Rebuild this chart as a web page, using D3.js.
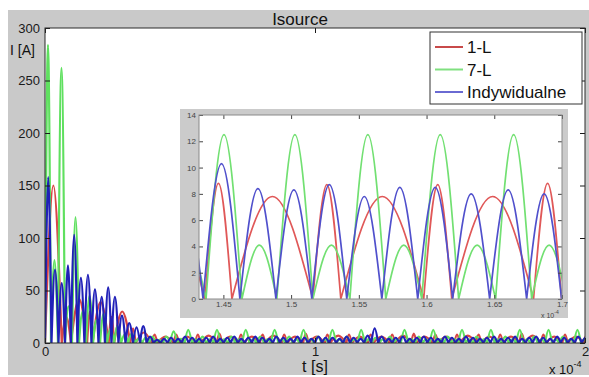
<!DOCTYPE html>
<html>
<head>
<meta charset="utf-8">
<script src="https://cdn.jsdelivr.net/npm/d3@7"></script>
<style>
  html, body { margin: 0; padding: 0; background: #fff; }
  svg { display: block; font-family: "Liberation Sans", Arial, sans-serif; }
</style>
</head>
<body>
<div id="chart"></div>
<script>
// Time in units of 1e-4 s. Each series: zero crossings of |i(t)| and the peak of each arch between them.
const seriesNames = ['1-L', '7-L', 'Indywidualne'];

// main plot, 1-L
const redZeros = [0, 0.062, 0.096, 0.156, 0.176, 0.236, 0.256, 0.316, 0.336, 0.396, 0.416,
  0.476, 0.496, 0.556, 0.576, 0.636, 0.656, 0.716, 0.736, 0.796, 0.816, 0.876, 0.896, 0.956, 0.976,
  1.036, 1.056, 1.116, 1.136, 1.196, 1.216, 1.276, 1.296, 1.356, 1.376, 1.436, 1.456, 1.516, 1.536,
  1.596, 1.616, 1.676, 1.696, 1.756, 1.776, 1.836, 1.856, 1.916, 1.936, 1.996, 2.016];
const redPeaks = [150, 25, 42, 30, 39, 25, 30, 14, 10, 8, 6,
  8, 6, 8, 7, 9, 6, 8, 6, 8, 7,
  8, 6, 9, 6, 8, 7, 8, 6, 8, 6,
  8, 7, 9, 6, 8, 6, 8, 7, 8, 6,
  8, 6, 9, 7, 8, 6, 8, 6, 8];

// main plot, 7-L
const greenZeros = [0, 0.022, 0.048, 0.074, 0.100, 0.126, 0.152, 0.178, 0.204, 0.230, 0.256, 0.282,
  0.308, 0.334, 0.360, 0.385,
  0.410, 0.437, 0.463, 0.490, 0.517, 0.544, 0.570, 0.597, 0.624, 0.650, 0.677, 0.704, 0.730, 0.757,
  0.784, 0.811, 0.837, 0.864, 0.891, 0.917, 0.944, 0.971, 0.997, 1.024, 1.051, 1.078, 1.104, 1.131,
  1.158, 1.184, 1.211, 1.238, 1.264, 1.291, 1.318, 1.345, 1.371, 1.398, 1.425, 1.451, 1.478, 1.505,
  1.531, 1.558, 1.585, 1.612, 1.638, 1.665, 1.692, 1.718, 1.745, 1.772, 1.798, 1.825, 1.852, 1.878,
  1.905, 1.932, 1.959, 1.985, 2.012];
const greenPeaks = [284, 79, 262, 35, 120, 30, 45, 22, 28, 14, 16, 8, 9, 4, 5, 6,
  3, 6, 11, 4,
  12.5, 3.5, 6, 3.5,
  12.5, 3.5, 6, 3.5,
  12.5, 3.5, 6, 3.5,
  12.5, 3.5, 6, 3.5,
  12.5, 3.5, 6, 3.5,
  12.5, 3.5, 6, 3.5,
  12.5, 3.5, 5, 3.5, 6, 3.5,
  12.5, 3.5, 6, 3.5,
  12.5, 3.5, 6, 3.5,
  12.5, 3.5, 6, 3.5,
  12.5, 3.5, 6, 3.5,
  12.5, 3.5, 6, 3.5,
  12.5, 3.5, 6, 3.5,
  12.5, 3.5];

// main plot, Indywidualne
const blueZeros = [0, 0.024, 0.050, 0.074, 0.096, 0.120, 0.146, 0.172, 0.198, 0.222, 0.246, 0.272,
  0.298, 0.326, 0.352, 0.376, 0.402,
  0.428, 0.454, 0.480, 0.506, 0.532, 0.558, 0.584, 0.610, 0.636, 0.662, 0.688, 0.714, 0.740, 0.766,
  0.792, 0.818, 0.844, 0.870, 0.896, 0.922, 0.948, 0.974, 1.000, 1.026, 1.052, 1.078, 1.104, 1.130,
  1.156, 1.182, 1.208, 1.234, 1.260, 1.286, 1.312, 1.338, 1.364, 1.390, 1.416, 1.442, 1.468, 1.494,
  1.520, 1.546, 1.572, 1.598, 1.624, 1.650, 1.676, 1.702, 1.728, 1.754, 1.780, 1.806, 1.832, 1.858,
  1.884, 1.910, 1.936, 1.962, 1.988, 2.014];
const bluePeaks = [158, 70, 57, 74, 103, 62, 65, 51, 44, 53, 44, 26, 19, 15, 16, 6, 3,
  4, 5, 4, 6, 5, 4, 5, 6, 4, 5,
  6, 4, 5, 6, 5, 4, 6, 5, 4, 6,
  5, 4, 6, 5, 5, 4, 6, 5, 4, 7,
  14, 6, 4, 5, 6, 4, 5, 6, 5, 4,
  6, 5, 4, 6, 5, 4, 5, 6, 4, 5,
  6, 4, 5, 6, 5, 4, 6, 5, 4, 6,
  5];

// zoomed inset (1.432 .. 1.7)
const insetRedZeros = [1.3764, 1.4364, 1.4563, 1.5161, 1.5367, 1.5979, 1.6186, 1.6790, 1.6997, 1.7597];
const insetRedPeaks = [7.8, 8.8, 7.8, 8.7, 7.8, 8.7, 7.8, 8.8, 7.8];
const insetGreenZeros = [1.4106, 1.4372, 1.4637, 1.4895, 1.5161, 1.5434, 1.5699, 1.5965, 1.6237, 1.6510, 1.6776, 1.7034];
const insetGreenPeaks = [4.1, 12.5, 4.1, 12.5, 4.1, 12.5, 4.1, 12.5, 4.1, 12.5, 4.1];
const insetBlueZeros = [1.4084, 1.4350, 1.4622, 1.4888, 1.5153, 1.5411, 1.5670, 1.5935, 1.6193, 1.6466, 1.6739, 1.6997, 1.7260];
const insetBluePeaks = [8.0, 10.3, 8.4, 8.3, 8.7, 7.8, 8.5, 8.5, 8.0, 8.3, 8.0, 8.2];

const mainXTicks = [0, 1, 2];
const mainYTicks = [0, 50, 100, 150, 200, 250, 300];
const insetXTicks = [1.45, 1.5, 1.55, 1.6, 1.65, 1.7];
const insetYTicks = [0, 2, 4, 6, 8, 10, 12, 14];

const mainColors = ['#d84646', '#5fe05f', '#2020b8'];
const insetColors = ['#e05858', '#72e072', '#5050cc'];
const legendColors = ['#c84a4a', '#80e080', '#6a6ad2'];

const W = 589, H = 377;
const svg = d3.select('#chart').append('svg').attr('width', W).attr('height', H);

// figure background
svg.append('rect').attr('x', 8).attr('y', 10).attr('width', W - 8).attr('height', 365).attr('fill', '#c9c9c9');

const x = d3.scaleLinear().domain([0, 2]).range([45, 585]);
const y = d3.scaleLinear().domain([0, 300]).range([343, 28]);

const defs = svg.append('defs');
defs.append('clipPath').attr('id', 'clipMain').append('rect')
  .attr('x', 45).attr('y', 28).attr('width', 540).attr('height', 315);
defs.append('clipPath').attr('id', 'clipInset').append('rect')
  .attr('x', 199).attr('y', 115).attr('width', 363).attr('height', 184);

svg.append('rect').attr('x', 45).attr('y', 28).attr('width', 540).attr('height', 315).attr('fill', '#fff');

// one path made of separate arches (sharp cusps at the zeros, round tops)
function archPath(zeros, peaks, xs, ys) {
  const line = d3.line().x(d => xs(d[0])).y(d => ys(d[1])).curve(d3.curveMonotoneX);
  return peaks.map((p, i) => line([[zeros[i], 0], [(zeros[i] + zeros[i + 1]) / 2, p], [zeros[i + 1], 0]])).join('');
}

const mainSeries = [[redZeros, redPeaks], [greenZeros, greenPeaks], [blueZeros, bluePeaks]];
const gMain = svg.append('g').attr('clip-path', 'url(#clipMain)');
mainSeries.forEach((s, i) => {
  gMain.append('path')
    .attr('d', archPath(s[0], s[1], x, y))
    .attr('fill', 'none')
    .attr('stroke', mainColors[i])
    .attr('stroke-width', 2.2)
    .attr('stroke-linejoin', 'round');
});

// main axes
function styleAxis(g, size, color) {
  g.select('.domain').remove();
  g.selectAll('line').attr('stroke', color);
  g.selectAll('text').attr('fill', color).attr('font-size', size)
    .attr('font-family', '"Liberation Sans", Arial, sans-serif');
}
svg.append('g').attr('transform', 'translate(45,0)')
  .call(d3.axisLeft(y).tickValues(mainYTicks).tickSizeInner(-5).tickSizeOuter(0).tickPadding(5))
  .call(g => styleAxis(g, 13, '#1a1a1a'));
svg.append('g').attr('transform', 'translate(585,0)')
  .call(d3.axisRight(y).tickValues(mainYTicks).tickSizeInner(-5).tickSizeOuter(0).tickFormat(''))
  .call(g => styleAxis(g, 13, '#1a1a1a'));
svg.append('g').attr('transform', 'translate(0,343)')
  .call(d3.axisBottom(x).tickValues(mainXTicks).tickSizeInner(-5).tickSizeOuter(0).tickPadding(4)
    .tickFormat(d3.format('d')))
  .call(g => styleAxis(g, 13, '#1a1a1a'));
svg.append('g').attr('transform', 'translate(0,28)')
  .call(d3.axisTop(x).tickValues(mainXTicks).tickSizeInner(-5).tickSizeOuter(0).tickFormat(''))
  .call(g => styleAxis(g, 13, '#1a1a1a'));
svg.append('rect').attr('x', 45).attr('y', 28).attr('width', 540).attr('height', 315)
  .attr('fill', 'none').attr('stroke', '#2a2a2a').attr('stroke-width', 1);

svg.append('text').attr('x', 300).attr('y', 25).attr('text-anchor', 'middle')
  .attr('font-size', 17).attr('fill', '#111').text('Isource');
svg.append('text').attr('x', 10).attr('y', 55).attr('font-size', 14).attr('fill', '#111').text('I [A]');
svg.append('text').attr('x', 315).attr('y', 372).attr('text-anchor', 'middle')
  .attr('font-size', 16).attr('fill', '#111').text('t [s]');
const mainExp = svg.append('text').attr('x', 549).attr('y', 374).attr('font-size', 13).attr('fill', '#111');
mainExp.append('tspan').text('x 10');
mainExp.append('tspan').attr('dy', -7).attr('font-size', 9).text('-4');

// inset
const xi = d3.scaleLinear().domain([1.432, 1.7]).range([199, 562]);
const yi = d3.scaleLinear().domain([0, 14]).range([299, 115]);

svg.append('rect').attr('x', 180).attr('y', 109).attr('width', 388).attr('height', 209).attr('fill', '#cbcbcb');
svg.append('rect').attr('x', 199).attr('y', 115).attr('width', 363).attr('height', 184).attr('fill', '#fff');

const insetSeries = [[insetRedZeros, insetRedPeaks], [insetGreenZeros, insetGreenPeaks], [insetBlueZeros, insetBluePeaks]];
const gInset = svg.append('g').attr('clip-path', 'url(#clipInset)');
insetSeries.forEach((s, i) => {
  gInset.append('path')
    .attr('d', archPath(s[0], s[1], xi, yi))
    .attr('fill', 'none')
    .attr('stroke', insetColors[i])
    .attr('stroke-width', 1.7)
    .attr('stroke-linejoin', 'round');
});

svg.append('g').attr('transform', 'translate(199,0)')
  .call(d3.axisLeft(yi).tickValues(insetYTicks).tickSizeInner(-4).tickSizeOuter(0).tickPadding(3))
  .call(g => styleAxis(g, 8, '#444'));
svg.append('g').attr('transform', 'translate(562,0)')
  .call(d3.axisRight(yi).tickValues(insetYTicks).tickSizeInner(-4).tickSizeOuter(0).tickFormat(''))
  .call(g => styleAxis(g, 8, '#444'));
svg.append('g').attr('transform', 'translate(0,299)')
  .call(d3.axisBottom(xi).tickValues(insetXTicks).tickSizeInner(-4).tickSizeOuter(0).tickPadding(2)
    .tickFormat(d => String(d)))
  .call(g => styleAxis(g, 8, '#444'));
svg.append('g').attr('transform', 'translate(0,115)')
  .call(d3.axisTop(xi).tickValues(insetXTicks).tickSizeInner(-4).tickSizeOuter(0).tickFormat(''))
  .call(g => styleAxis(g, 8, '#444'));
svg.append('rect').attr('x', 199).attr('y', 115).attr('width', 363).attr('height', 184)
  .attr('fill', 'none').attr('stroke', '#8a8a8a').attr('stroke-width', 1);
const insetExp = svg.append('text').attr('x', 541).attr('y', 318).attr('font-size', 7).attr('fill', '#444');
insetExp.append('tspan').text('x 10');
insetExp.append('tspan').attr('dy', -4).attr('font-size', 5).text('-4');

// legend
const legend = svg.append('g');
legend.append('rect').attr('x', 430).attr('y', 32).attr('width', 152).attr('height', 72)
  .attr('fill', '#fff').attr('stroke', '#333').attr('stroke-width', 1);
seriesNames.forEach((name, i) => {
  const ly = 47 + i * 22.5;
  legend.append('line').attr('x1', 435).attr('x2', 463).attr('y1', ly).attr('y2', ly)
    .attr('stroke', legendColors[i]).attr('stroke-width', 2);
  legend.append('text').attr('x', 467).attr('y', ly + 6).attr('font-size', 17).attr('fill', '#111').text(name);
});
</script>
</body>
</html>
